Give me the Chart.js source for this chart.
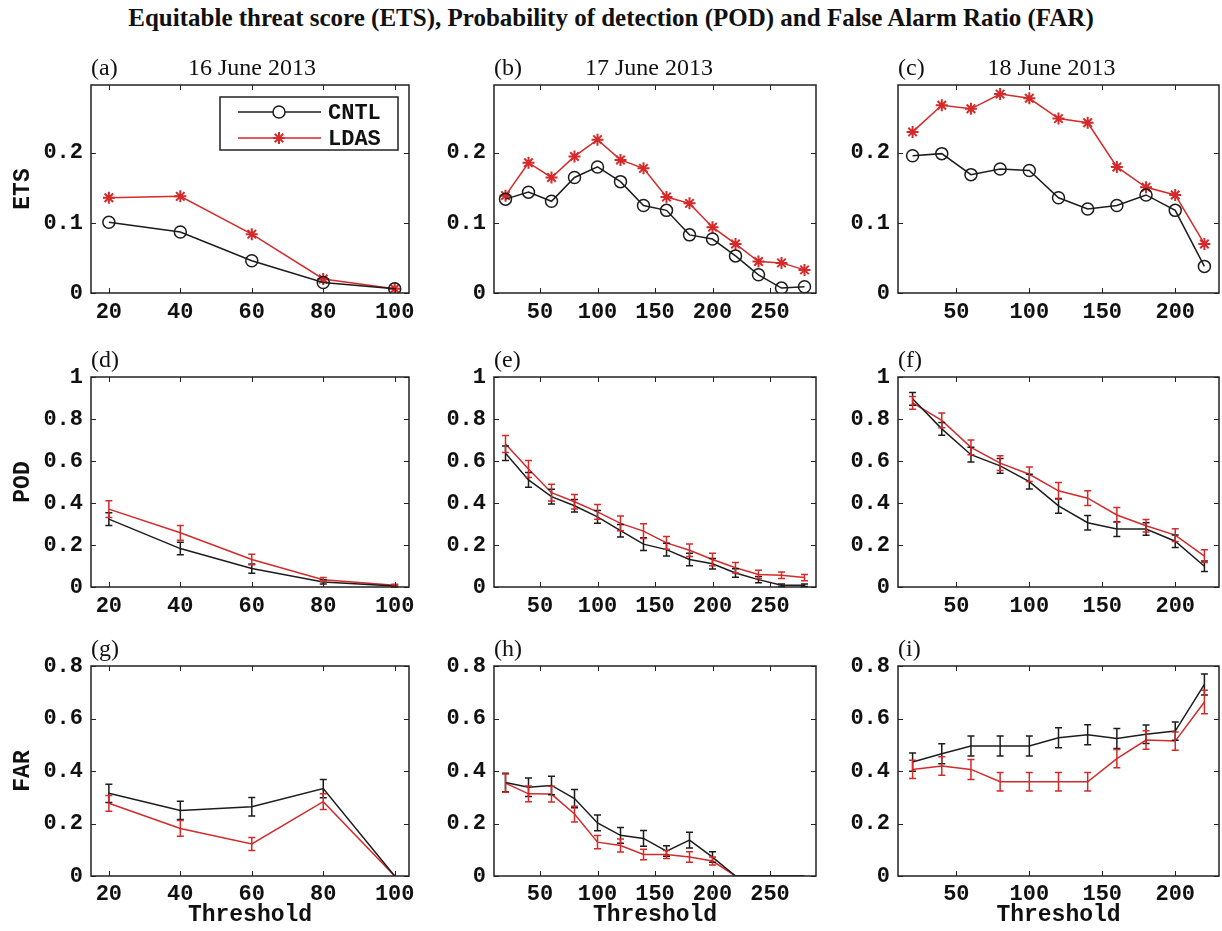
<!DOCTYPE html>
<html>
<head>
<meta charset="utf-8">
<title>ETS, POD and FAR</title>
<script src="https://cdn.jsdelivr.net/npm/chart.js"></script>
<style>
  body { margin: 0; background: #fff; }
  #page { position: relative; width: 1222px; height: 931px; overflow: hidden; }
  #mainTitle {
    position: absolute; left: 0; top: 4px; width: 1222px; text-align: center;
    font: bold 25px "Liberation Serif", "Times New Roman", serif; color: #111;
  }
  #page canvas { position: absolute; }
</style>
</head>
<body>
<div id="page">
  <div id="mainTitle">Equitable threat score (ETS), Probability of detection (POD) and False Alarm Ratio (FAR)</div>
</div>
<script>
// thresholds per day
const thr16 = [20, 40, 60, 80, 100];
const thr17 = [20, 40, 60, 80, 100, 120, 140, 160, 180, 200, 220, 240, 260, 280];
const thr18 = [20, 40, 60, 80, 100, 120, 140, 160, 180, 200, 220];

// ETS
const etsCntl16 = [0.101, 0.087, 0.046, 0.015, 0.006];
const etsLdas16 = [0.136, 0.138, 0.084, 0.020, 0.006];
const etsCntl17 = [0.134, 0.144, 0.131, 0.165, 0.180, 0.159, 0.125, 0.118, 0.083, 0.077, 0.053, 0.026, 0.007, 0.009];
const etsLdas17 = [0.139, 0.186, 0.165, 0.195, 0.219, 0.190, 0.178, 0.137, 0.128, 0.094, 0.070, 0.045, 0.043, 0.033];
const etsCntl18 = [0.196, 0.199, 0.169, 0.177, 0.175, 0.136, 0.120, 0.125, 0.140, 0.118, 0.038];
const etsLdas18 = [0.230, 0.268, 0.263, 0.284, 0.278, 0.249, 0.243, 0.180, 0.151, 0.140, 0.070];

// POD and its error half-widths
const podCntl16 = [0.323, 0.183, 0.088, 0.024, 0.005];
const podLdas16 = [0.371, 0.258, 0.131, 0.035, 0.008];
const podCntl17 = [0.637, 0.510, 0.430, 0.387, 0.334, 0.268, 0.204, 0.178, 0.131, 0.111, 0.067, 0.035, 0.008, 0.008];
const podLdas17 = [0.681, 0.562, 0.449, 0.406, 0.358, 0.303, 0.266, 0.210, 0.175, 0.131, 0.092, 0.060, 0.056, 0.045];
const podCntl18 = [0.896, 0.753, 0.630, 0.577, 0.502, 0.386, 0.306, 0.276, 0.276, 0.218, 0.099];
const podLdas18 = [0.877, 0.793, 0.665, 0.590, 0.537, 0.458, 0.423, 0.343, 0.292, 0.247, 0.147];
const podCntlErr16 = [0.030, 0.030, 0.022, 0.010, 0.005];
const podLdasErr16 = [0.040, 0.035, 0.025, 0.010, 0.005];
const podCntlErr17 = [0.035, 0.035, 0.035, 0.030, 0.030, 0.030, 0.030, 0.030, 0.030, 0.025, 0.020, 0.015, 0.006, 0.006];
const podLdasErr17 = [0.040, 0.040, 0.040, 0.035, 0.035, 0.035, 0.035, 0.030, 0.030, 0.030, 0.025, 0.020, 0.015, 0.015];
const podCntlErr18 = [0.030, 0.030, 0.035, 0.035, 0.035, 0.035, 0.035, 0.035, 0.030, 0.030, 0.025];
const podLdasErr18 = [0.030, 0.035, 0.035, 0.035, 0.035, 0.040, 0.035, 0.035, 0.030, 0.030, 0.030];

// FAR and its error half-widths
const farCntl16 = [0.315, 0.250, 0.264, 0.333, 0.000];
const farLdas16 = [0.277, 0.181, 0.122, 0.283, 0.000];
const farCntl17 = [0.356, 0.338, 0.345, 0.295, 0.202, 0.155, 0.143, 0.095, 0.137, 0.072, 0.000, 0.000, 0.000, 0.000];
const farLdas17 = [0.354, 0.313, 0.312, 0.236, 0.129, 0.116, 0.082, 0.082, 0.072, 0.057, 0.000, 0.000, 0.000, 0.000];
const farCntl18 = [0.434, 0.466, 0.495, 0.495, 0.495, 0.527, 0.538, 0.524, 0.540, 0.552, 0.730];
const farLdas18 = [0.406, 0.419, 0.406, 0.359, 0.359, 0.359, 0.359, 0.447, 0.518, 0.514, 0.663];
const farCntlErr16 = [0.035, 0.035, 0.035, 0.035, 0.000];
const farLdasErr16 = [0.030, 0.030, 0.025, 0.030, 0.000];
const farCntlErr17 = [0.035, 0.035, 0.035, 0.035, 0.030, 0.030, 0.030, 0.020, 0.030, 0.020, 0.000, 0.000, 0.000, 0.000];
const farLdasErr17 = [0.035, 0.030, 0.030, 0.030, 0.025, 0.025, 0.020, 0.015, 0.020, 0.015, 0.000, 0.000, 0.000, 0.000];
const farCntlErr18 = [0.035, 0.038, 0.038, 0.038, 0.038, 0.038, 0.038, 0.038, 0.035, 0.035, 0.040];
const farLdasErr18 = [0.035, 0.035, 0.038, 0.035, 0.035, 0.035, 0.035, 0.035, 0.035, 0.035, 0.045];

// axis ticks
const xTicks16 = [20, 40, 60, 80, 100];
const xTicks17 = [50, 100, 150, 200, 250];
const xTicks18 = [50, 100, 150, 200];
const yTicksEts = [0, 0.1, 0.2];
const yTicksPod = [0, 0.2, 0.4, 0.6, 0.8, 1];
const yTicksFar = [0, 0.2, 0.4, 0.6, 0.8];

const dates = ['16 June 2013', '17 June 2013', '18 June 2013'];
const rowNames = ['ETS', 'POD', 'FAR'];
const letters = ['(a)', '(b)', '(c)', '(d)', '(e)', '(f)', '(g)', '(h)', '(i)'];

const BLACK = '#1c1c1c';
const RED = '#d42a2a';

// plot area positions in the page
const colL = [91, 494, 898];
const colR = [409, 816, 1219];
const rowT = [85, 377, 666];
const rowB = [293, 587, 876];
const dateShift = [2, -6, -7];
const Y_AXIS_W = 91;
const TOP_PAD = 60;

const days = [
  { thr: thr16, xMin: 15, xMax: 104, xTicks: xTicks16 },
  { thr: thr17, xMin: 10, xMax: 290, xTicks: xTicks17 },
  { thr: thr18, xMin: 10, xMax: 230, xTicks: xTicks18 }
];
const rows = [
  { yMax: 0.297, yTicks: yTicksEts, cntl: [etsCntl16, etsCntl17, etsCntl18], ldas: [etsLdas16, etsLdas17, etsLdas18] },
  { yMax: 1, yTicks: yTicksPod, cntl: [podCntl16, podCntl17, podCntl18], ldas: [podLdas16, podLdas17, podLdas18],
    cntlErr: [podCntlErr16, podCntlErr17, podCntlErr18], ldasErr: [podLdasErr16, podLdasErr17, podLdasErr18] },
  { yMax: 0.8, yTicks: yTicksFar, cntl: [farCntl16, farCntl17, farCntl18], ldas: [farLdas16, farLdas17, farLdas18],
    cntlErr: [farCntlErr16, farCntlErr17, farCntlErr18], ldasErr: [farLdasErr16, farLdasErr17, farLdasErr18] }
];

// box around the axes with inward ticks on all four sides (matlab look)
const framePlugin = {
  id: 'frame',
  afterDraw(chart) {
    const { ctx, chartArea: a, scales } = chart;
    ctx.save();
    ctx.strokeStyle = '#222';
    ctx.lineWidth = 1.5;
    ctx.strokeRect(a.left, a.top, a.right - a.left, a.bottom - a.top);
    ctx.lineWidth = 1;
    ctx.beginPath();
    const t = 5;
    scales.x.ticks.forEach(tk => {
      const px = Math.round(scales.x.getPixelForValue(tk.value)) + 0.5;
      ctx.moveTo(px, a.bottom); ctx.lineTo(px, a.bottom - t);
      ctx.moveTo(px, a.top); ctx.lineTo(px, a.top + t);
    });
    scales.y.ticks.forEach(tk => {
      const py = Math.round(scales.y.getPixelForValue(tk.value)) + 0.5;
      ctx.moveTo(a.left, py); ctx.lineTo(a.left + t, py);
      ctx.moveTo(a.right, py); ctx.lineTo(a.right - t, py);
    });
    ctx.stroke();
    ctx.restore();
  }
};

// vertical error bars with caps
const errorBarPlugin = {
  id: 'errorBars',
  afterDatasetsDraw(chart) {
    const { ctx, scales: { x, y } } = chart;
    chart.data.datasets.forEach(ds => {
      if (!ds.errors) return;
      ctx.save();
      ctx.strokeStyle = ds.borderColor;
      ctx.lineWidth = 1.5;
      ctx.beginPath();
      ds.data.forEach((p, i) => {
        const e = ds.errors[i];
        if (!e) return;
        const px = x.getPixelForValue(p.x);
        const lo = y.getPixelForValue(p.y - e);
        const hi = y.getPixelForValue(p.y + e);
        ctx.moveTo(px, lo); ctx.lineTo(px, hi);
        ctx.moveTo(px - 3.5, lo); ctx.lineTo(px + 3.5, lo);
        ctx.moveTo(px - 3.5, hi); ctx.lineTo(px + 3.5, hi);
      });
      ctx.stroke();
      ctx.restore();
    });
  }
};

// "(a)" label and the date above each panel
const panelTextPlugin = {
  id: 'panelText',
  afterDraw(chart, args, opts) {
    const { ctx, chartArea: a } = chart;
    ctx.save();
    ctx.fillStyle = '#111';
    ctx.font = '24px "Liberation Serif", "Times New Roman", serif';
    ctx.textBaseline = 'alphabetic';
    ctx.textAlign = 'left';
    ctx.fillText(opts.letter, a.left, a.top - 10);
    if (opts.date) {
      ctx.textAlign = 'center';
      ctx.fillText(opts.date, (a.left + a.right) / 2 + opts.shift, a.top - 10);
    }
    ctx.restore();
  }
};

// legend box inside panel (a)
const boxLegendPlugin = {
  id: 'boxLegend',
  afterDraw(chart, args, opts) {
    if (!opts.show) return;
    const { ctx, chartArea: a } = chart;
    const left = a.right - 189, top = a.top + 12, w = 178, h = 53;
    ctx.save();
    ctx.fillStyle = '#fff';
    ctx.fillRect(left, top, w, h);
    ctx.strokeStyle = '#222';
    ctx.lineWidth = 1.5;
    ctx.strokeRect(left, top, w, h);
    chart.data.datasets.forEach((ds, i) => {
      const yy = top + 15 + i * 26;
      ctx.strokeStyle = ds.borderColor;
      ctx.lineWidth = 1.5;
      ctx.beginPath();
      ctx.moveTo(left + 18, yy); ctx.lineTo(left + 101, yy);
      ctx.stroke();
      ctx.fillStyle = '#fff';
      ctx.lineWidth = ds.pointBorderWidth;
      Chart.helpers.drawPoint(ctx, { pointStyle: ds.pointStyle, radius: ds.pointRadius, borderWidth: ds.pointBorderWidth, rotation: 0 }, left + 59, yy);
      ctx.fillStyle = '#111';
      ctx.font = 'bold 22px "Liberation Mono", "Courier New", monospace';
      ctx.textBaseline = 'middle';
      ctx.fillText(ds.label, left + 108, yy + 1);
    });
    ctx.restore();
  }
};

Chart.defaults.font.family = '"Liberation Mono", "Courier New", monospace';
const tickFont = { size: 22, weight: 'bold' };
const titleFont = { size: 23, weight: 'bold' };

const page = document.getElementById('page');

rows.forEach((row, r) => {
  days.forEach((day, c) => {
    const plotW = colR[c] - colL[c];
    const plotH = rowB[r] - rowT[r];
    const bottomSpace = r === 2 ? 55 : 35;
    const cv = document.createElement('canvas');
    cv.width = plotW + Y_AXIS_W + 8;
    cv.height = plotH + TOP_PAD + bottomSpace;
    cv.style.left = (colL[c] - Y_AXIS_W) + 'px';
    cv.style.top = (rowT[r] - TOP_PAD) + 'px';
    page.appendChild(cv);

    const markers = r === 0;
    const cntl = {
      label: 'CNTL',
      data: day.thr.map((x, i) => ({ x: x, y: row.cntl[c][i] })),
      borderColor: BLACK, backgroundColor: '#fff', borderWidth: 1.5,
      pointStyle: 'circle', pointRadius: markers ? 6 : 0, pointBorderWidth: 1.5,
      pointBackgroundColor: 'rgba(255,255,255,0)', pointBorderColor: BLACK,
      errors: row.cntlErr ? row.cntlErr[c] : null
    };
    const ldas = {
      label: 'LDAS',
      data: day.thr.map((x, i) => ({ x: x, y: row.ldas[c][i] })),
      borderColor: RED, backgroundColor: RED, borderWidth: 1.5,
      pointStyle: 'star', pointRadius: markers ? 6 : 0, pointBorderWidth: 2,
      pointBorderColor: RED,
      errors: row.ldasErr ? row.ldasErr[c] : null
    };

    new Chart(cv, {
      type: 'line',
      data: { datasets: [cntl, ldas] },
      plugins: [errorBarPlugin, framePlugin, panelTextPlugin, boxLegendPlugin],
      options: {
        responsive: false,
        animation: false,
        layout: { padding: { top: TOP_PAD, right: 8, left: 0, bottom: 0 } },
        plugins: {
          legend: { display: false },
          tooltip: { enabled: false },
          panelText: { letter: letters[r * 3 + c], date: r === 0 ? dates[c] : '', shift: dateShift[c] },
          boxLegend: { show: r === 0 && c === 0 }
        },
        scales: {
          x: {
            type: 'linear', min: day.xMin, max: day.xMax,
            afterBuildTicks: s => { s.ticks = day.xTicks.map(v => ({ value: v })); },
            afterFit: s => { s.height = bottomSpace; s.paddingLeft = 0; s.paddingRight = 0; },
            grid: { display: false, drawTicks: false },
            border: { display: false },
            ticks: { font: tickFont, color: '#111', padding: r === 2 ? 5 : 6, maxRotation: 0, callback: v => String(v) },
            title: { display: r === 2, text: 'Threshold', font: titleFont, color: '#111', padding: { top: 0, bottom: 2 } }
          },
          y: {
            min: 0, max: row.yMax,
            afterBuildTicks: s => { s.ticks = row.yTicks.map(v => ({ value: v })); },
            afterFit: s => { s.width = Y_AXIS_W; s.paddingTop = 0; s.paddingBottom = 0; },
            grid: { display: false, drawTicks: false },
            border: { display: false },
            ticks: { font: tickFont, color: '#111', padding: 8, callback: v => String(v) },
            title: { display: c === 0, text: rowNames[r], font: titleFont, color: '#111', padding: { top: 9, bottom: 0 } }
          }
        }
      }
    });
  });
});
</script>
</body>
</html>
